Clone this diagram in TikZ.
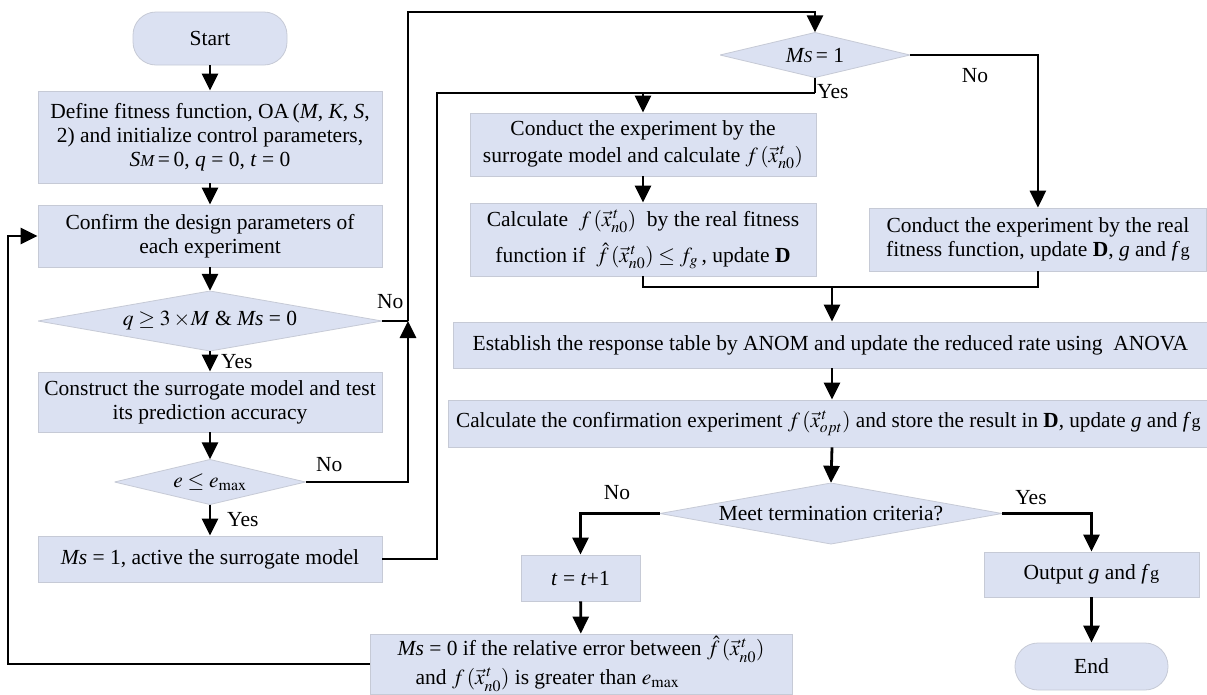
\documentclass[tikz,border=0pt]{standalone}
\usepackage{mathptmx}
\usepackage{fontspec}
\setmainfont{Liberation Serif}
\usetikzlibrary{arrows.meta}
\definecolor{boxc}{RGB}{219,225,242}
\definecolor{bordc}{RGB}{198,202,214}
\newcommand\fsz{\fontsize{21.5}{24}\selectfont}
\newcommand\vx[1]{\vec{x}^{\,t}_{#1}}
\newcommand\fgsub{\textit{f}\kern0.5pt{\scalebox{0.85}{g}}}
\begin{document}
\begin{tikzpicture}[x=1pt,y=-1pt,
 box/.style={rectangle,draw=bordc,line width=0.8pt,fill=boxc,inner sep=0pt,align=center,font=\fsz},
 pill/.style={box,rounded corners=23pt},
 dia/.style={rectangle,fill=white,inner sep=0pt,align=center,font=\fsz,
   path picture={\draw[fill=boxc,draw=bordc,line width=0.8pt]
     (path picture bounding box.west) -- (path picture bounding box.north) --
     (path picture bounding box.east) -- (path picture bounding box.south) -- cycle;}},
 line/.style={line width=2.8pt,line join=miter},
 arr/.style={line,-{Triangle[width=16pt,length=17pt]}},
 lab/.style={font=\fsz,inner sep=0pt}]
\useasboundingbox (0,0) rectangle (1207,694);

% left column
\node[pill,minimum width=154pt,minimum height=53pt] (start) at (210,38.5) {Start};
\node[box,minimum width=344pt,minimum height=92pt] (b1) at (210,137)
 {Define fitness function, OA\,(\textit{M}, \textit{K}, \textit{S},\\
  2) and initialize control parameters,\\
  \textit{S\scalebox{0.78}{M}}\,=\,0, \textit{q} = 0, \textit{t} = 0};
\node[box,minimum width=344pt,minimum height=62pt] (b2) at (210,236)
 {Confirm the design parameters of\\each experiment};
\node[dia,minimum width=344pt,minimum height=60pt] (d1) at (210,321)
 {$q\geq 3\times\! M$ \& \textit{Ms} = 0};
\node[box,minimum width=344pt,minimum height=60pt] (b3) at (210,402)
 {Construct the surrogate model and test\\its prediction accuracy};
\node[dia,minimum width=191pt,minimum height=45pt] (d2) at (210,482)
 {$e\leq e_{\max}$};
\node[box,minimum width=344pt,minimum height=46pt] (b4) at (210,559)
 {\textit{Ms} = 1, active the surrogate model};

% upper right
\node[dia,minimum width=190pt,minimum height=45pt] (ms1) at (815,55)
 {\textit{M\scalebox{0.78}{S}}\,= 1};
\node[box,minimum width=346pt,minimum height=63pt] (surr) at (643,144.5)
 {Conduct the experiment by the\\[3pt]surrogate model and calculate $f\,(\vx{n0})$};
\node[box,minimum width=346pt,minimum height=73pt] (calc) at (643,239.5)
 {Calculate \ $f\,(\vx{n0})$ \ by the real fitness\\[9pt]
  function if \ $\hat{f}\,(\vx{n0})\leq f_g$\,, update \textbf{D}};
\node[box,minimum width=337pt,minimum height=63pt,anchor=west] (real) at (869,239.5)
 {Conduct the experiment by the real\\fitness function, update \textbf{D}, \textit{g} and \fgsub};
\node[box,minimum width=754pt,minimum height=46pt,anchor=west] (est) at (453,345)
 {Establish the response table by ANOM and update the reduced rate using \ ANOVA};
\node[box,minimum width=759pt,minimum height=47pt,anchor=west] (conf) at (448,423.5) {};
\node[lab,anchor=west] (conft) at (456,423.5)
 {\scalebox{0.985}[1]{Calculate the confirmation experiment $f\,(\vx{opt})$ and store the result in \textbf{D}, update \textit{g} and \fgsub}};

% bottom
\node[dia,minimum width=342pt,minimum height=61pt] (meet) at (831,513.5)
 {Meet termination criteria?};
\node[box,minimum width=119pt,minimum height=46pt] (tt) at (580.5,578)
 {\textit{t} = \textit{t}+1};
\node[box,minimum width=422pt,minimum height=60pt,align=left] (b5) at (581,664)
 {\textit{Ms} = 0 if the relative error between $\hat{f}\,(\vx{n0})$\\[5pt]
  \hspace*{18pt}and $f\,(\vx{n0})$ is greater than $e_{\max}$};
\node[box,minimum width=215pt,minimum height=45pt] (out) at (1091.5,574.5)
 {Output \textit{g} and \fgsub};
\node[pill,minimum width=153pt,minimum height=47pt] (end) at (1091.5,666.5) {End};

% coordinates
\coordinate (j1) at (408,321);
\coordinate (tl) at (408,12);
\coordinate (jb) at (437,93);
\coordinate (jy) at (815,93);
\coordinate (jm) at (832,287);
\coordinate (lb) at (8,236);

% connectors
\draw[arr] (start) -- (b1);
\draw[arr] (b1) -- (b2);
\draw[arr] (b2) -- (d1);
\draw[arr] (d1) -- (b3);
\draw[arr] (b3) -- (d2);
\draw[arr] (d2) -- (b4);
\draw[line] (d1.east) -- (j1);
\draw[arr] (d2.east) -| (j1);
\draw[arr] (j1) -- (tl) -| (ms1.north);
\draw[line] (b4.east) -| (jb) -- (jy);
\draw[line] (ms1.south) -- (jy);
\draw[arr] (jy -| surr.north) -- (surr.north);
\draw[arr] (ms1.east) -| (real.north);
\draw[arr] (surr) -- (calc);
\draw[line] (calc.south) |- (jm);
\draw[line] (real.south) |- (jm);
\draw[arr] (jm) -- (jm |- est.north);
\draw[arr] (jm |- est.south) -- (jm |- conf.north);
\draw[arr] (jm |- conf.south) -- (meet.north);
\draw[arr] (meet.west) -| (tt.north);
\draw[arr] (meet.east) -| (out.north);
\draw[arr] (out) -- (end);
\draw[arr] (tt) -- (b5);
\draw[arr] (b5.west) -| (lb) -- (b2.west);

% labels
\node[lab,anchor=west] (y1) at (221,362) {Yes};
\node[lab,anchor=west] (y2) at (227,520) {Yes};
\node[lab,anchor=west] (n1) at (377,302) {No};
\node[lab,anchor=west] (n2) at (316,465) {No};
\node[lab,anchor=west] (y3) at (817,92) {Yes};
\node[lab] (n3) at (975,76) {No};
\node[lab] (n4) at (617,493) {No};
\node[lab] (y4) at (1031,498) {Yes};
\end{tikzpicture}
\end{document}
